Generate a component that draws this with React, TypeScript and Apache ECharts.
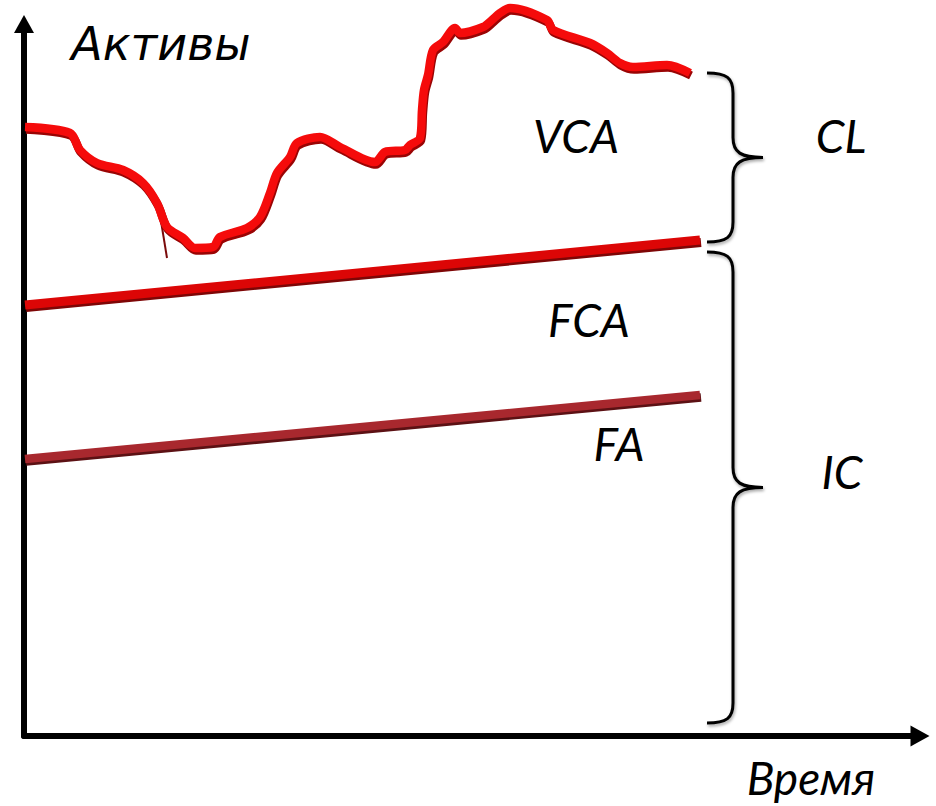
import React, { useEffect, useRef } from "react";
import * as echarts from "echarts";

// Time axis (x) and asset axis (y) in chart units
const X_MIN = 0;
const X_MAX = 896;
const Y_MIN = 2;
const Y_MAX = 714;

// Variable current assets curve (VCA)
const vcaX = [1, 46, 56, 73, 99, 119, 133, 143, 159, 171, 189, 196, 223, 236, 246, 253, 266, 273, 296, 316, 351, 361, 381, 386, 396, 398, 400, 404, 409, 419, 431, 436, 459, 468, 476, 486, 523, 529, 566, 583, 596, 609, 643, 666];
const vcaY = [611, 605, 588, 575, 568, 555, 535, 511, 500, 490, 491, 501, 510, 521, 545, 565, 581, 595, 601, 591, 576, 586, 588, 593, 600, 628, 648, 663, 688, 696, 710, 705, 711, 718, 725, 730, 718, 708, 695, 685, 675, 671, 673, 665];
// small artefact tail on the curve
const tailX = [136, 143];
const tailY = [523, 480];

// Fixed current assets level (FCA) and fixed assets level (FA)
const fcaX = [1, 676];
const fcaY = [433, 498];
const faX = [1, 676];
const faY = [279, 343];

// Braces: [x, top, bottom]
const braceCL = [683, 665, 496];
const braceIC = [683, 486, 15];

const axisNameY = "Активы";
const axisNameX = "Время";
const labels = [
  { text: "VCA", x: 576, y: 135 },
  { text: "FCA", x: 589, y: 319 },
  { text: "FA", x: 619, y: 443 },
  { text: "CL", x: 841, y: 135 },
  { text: "IC", x: 842, y: 471 },
];

const zip = (xs: number[], ys: number[]) => xs.map((x, i) => [x, ys[i]]);

export default function App() {
  const ref = useRef<HTMLDivElement>(null);
  useEffect(() => {
    document.body.style.margin = "0";
    const chart = echarts.init(ref.current!, undefined, { renderer: "svg" });
    const font = "Lato, 'Open Sans', sans-serif";
    const textEl = (t: string, x: number, y: number, size: number, fam = font, weight: any = "normal") => ({
      type: "text",
      x,
      y,
      silent: true,
      style: {
        text: t,
        fontSize: size,
        fontFamily: fam,
        fontStyle: "italic",
        fontWeight: weight,
        fill: "#000",
        align: "center",
        verticalAlign: "middle",
        textAlign: "center",
        textVerticalAlign: "middle",
      },
    });
    const braceItem = (params: any, api: any) => {
      const x = api.value(0);
      const p0 = api.coord([x, api.value(1)]);
      const p1 = api.coord([x, api.value(2)]);
      const x0 = p0[0];
      const y0 = p0[1];
      const y1 = p1[1];
      const mid = (y0 + y1) / 2;
      const w1 = 26;
      const w2 = 56;
      const r = 20;
      const d =
        `M ${x0} ${y0} C ${x0 + 20} ${y0} ${x0 + w1} ${y0 + 5} ${x0 + w1} ${y0 + r} ` +
        `L ${x0 + w1} ${mid - r} C ${x0 + w1} ${mid - 5} ${x0 + w1 + 8} ${mid} ${x0 + w2} ${mid} ` +
        `C ${x0 + w1 + 8} ${mid} ${x0 + w1} ${mid + 5} ${x0 + w1} ${mid + r} ` +
        `L ${x0 + w1} ${y1 - r} C ${x0 + w1} ${y1 - 5} ${x0 + 20} ${y1} ${x0} ${y1}`;
      return {
        type: "path",
        shape: { pathData: d },
        style: {
          fill: "none",
          stroke: "#000",
          lineWidth: 3,
          shadowColor: "rgba(0,0,0,0.35)",
          shadowBlur: 3,
          shadowOffsetX: 1,
          shadowOffsetY: 2,
        },
      };
    };
    const axisBase = {
      axisTick: { show: false },
      axisLabel: { show: false },
      splitLine: { show: false },
    };
    const hiddenAxis = {
      type: "value",
      show: false,
      ...axisBase,
    };
    const line = (name: string, xs: number[], ys: number[], color: string, width: number, idx: number, smooth: any = false, z = 2) => ({
      name,
      type: "line",
      data: zip(xs, ys),
      xAxisIndex: idx,
      yAxisIndex: idx,
      symbol: "none",
      smooth,
      clip: false,
      z,
      lineStyle: { color, width, cap: "butt", join: "round" },
    });
    chart.setOption({
      animation: false,
      backgroundColor: "#fff",
      grid: [
        { left: 24, right: 16, top: 24, bottom: 70 },
        // shading layer, shifted slightly down-right
        { left: 25, right: 15, top: 26.5, bottom: 67.5 },
      ],
      xAxis: [
        {
          type: "value",
          gridIndex: 0,
          min: X_MIN,
          max: X_MAX,
          axisLine: {
            show: true,
            symbol: ["none", "triangle"],
            symbolSize: [21, 19],
            lineStyle: { color: "#000", width: 6 },
          },
          ...axisBase,
        },
        { ...hiddenAxis, gridIndex: 1, min: X_MIN, max: X_MAX },
      ],
      yAxis: [
        {
          type: "value",
          gridIndex: 0,
          min: Y_MIN,
          max: Y_MAX,
          axisLine: {
            show: true,
            symbol: ["none", "triangle"],
            symbolSize: [20, 18],
            lineStyle: { color: "#000", width: 6 },
          },
          ...axisBase,
        },
        { ...hiddenAxis, gridIndex: 1, min: Y_MIN, max: Y_MAX },
      ],
      series: [
        line("FA shade", faX, faY, "#5c1114", 8.5, 1, false, 1),
        line("FCA shade", fcaX, fcaY, "#7e0606", 9, 1, false, 1),
        line("VCA shade", vcaX, vcaY, "#9a0404", 8.5, 1, 0.3, 1),
        line("FA", faX, faY, "#a8282e", 8.5, 0),
        line("FCA", fcaX, fcaY, "#dc0606", 9, 0),
        {
          ...line("tail", tailX, tailY, "#7a0a0a", 2, 0),
        },
        line("VCA", vcaX, vcaY, "#f50b0b", 8.5, 0, 0.3, 3),
        {
          name: "braces",
          type: "custom",
          renderItem: braceItem,
          clip: false,
          encode: { x: 0, y: [1, 2] },
          data: [braceCL, braceIC],
        },
      ],
      graphic: [
        textEl(axisNameY, 161, 44, 46, "'DejaVu Sans', sans-serif", 300),
        textEl(axisNameX, 811, 777, 46),
        ...labels.map((l) => textEl(l.text, l.x, l.y, 46)),
      ],
    });
    return () => chart.dispose();
  }, []);
  return <div ref={ref} style={{ width: 936, height: 806 }} />;
}
